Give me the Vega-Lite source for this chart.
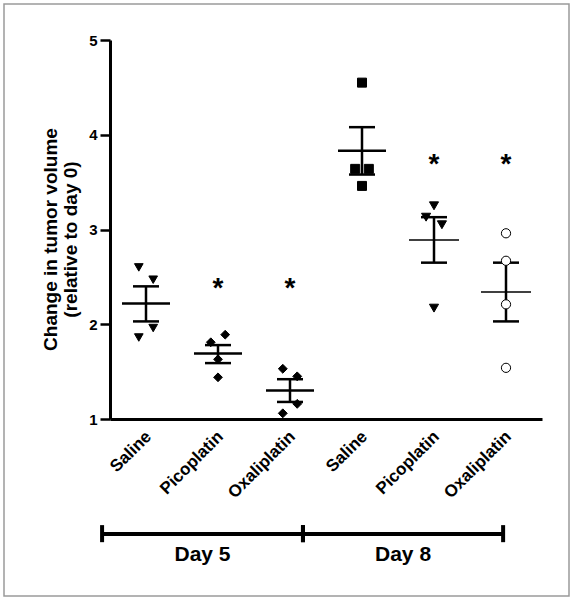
{
  "$schema": "https://vega.github.io/schema/vega-lite/v6.json",
  "width": 565,
  "height": 592,
  "autosize": "none",
  "padding": {"left": 4, "top": 4, "right": 7, "bottom": 5},
  "background": "white",
  "config": {
    "font": "Liberation Sans",
    "view": {"stroke": "#9a9a9a", "strokeWidth": 1.5},
    "axis": {"grid": false, "domainColor": "black", "tickColor": "black", "labelColor": "black", "titleColor": "black"}
  },
  "datasets": {
    "points": [
      {"cond": "Day 5|Saline", "value": 2.60, "dx": -0.2},
      {"cond": "Day 5|Saline", "value": 2.47, "dx": 0.2},
      {"cond": "Day 5|Saline", "value": 1.96, "dx": 0.2},
      {"cond": "Day 5|Saline", "value": 1.86, "dx": -0.2},
      {"cond": "Day 5|Picoplatin", "value": 1.89, "dx": 0.2},
      {"cond": "Day 5|Picoplatin", "value": 1.81, "dx": -0.2},
      {"cond": "Day 5|Picoplatin", "value": 1.63, "dx": 0},
      {"cond": "Day 5|Picoplatin", "value": 1.44, "dx": 0},
      {"cond": "Day 5|Oxaliplatin", "value": 1.53, "dx": -0.2},
      {"cond": "Day 5|Oxaliplatin", "value": 1.45, "dx": 0.2},
      {"cond": "Day 5|Oxaliplatin", "value": 1.16, "dx": 0.2},
      {"cond": "Day 5|Oxaliplatin", "value": 1.06, "dx": -0.2},
      {"cond": "Day 8|Saline", "value": 4.55, "dx": 0},
      {"cond": "Day 8|Saline", "value": 3.64, "dx": -0.19},
      {"cond": "Day 8|Saline", "value": 3.64, "dx": 0.19},
      {"cond": "Day 8|Saline", "value": 3.46, "dx": 0},
      {"cond": "Day 8|Picoplatin", "value": 3.25, "dx": 0},
      {"cond": "Day 8|Picoplatin", "value": 3.13, "dx": -0.22},
      {"cond": "Day 8|Picoplatin", "value": 3.05, "dx": 0.22},
      {"cond": "Day 8|Picoplatin", "value": 2.17, "dx": 0},
      {"cond": "Day 8|Oxaliplatin", "value": 2.96, "dx": 0},
      {"cond": "Day 8|Oxaliplatin", "value": 2.67, "dx": 0},
      {"cond": "Day 8|Oxaliplatin", "value": 2.21, "dx": 0},
      {"cond": "Day 8|Oxaliplatin", "value": 1.54, "dx": 0}
    ],
    "summary": [
      {"cond": "Day 5|Saline", "mean": 2.22, "lo": 2.03, "hi": 2.40, "star": null},
      {"cond": "Day 5|Picoplatin", "mean": 1.69, "lo": 1.59, "hi": 1.78, "star": 2.43},
      {"cond": "Day 5|Oxaliplatin", "mean": 1.30, "lo": 1.18, "hi": 1.42, "star": 2.43},
      {"cond": "Day 8|Saline", "mean": 3.83, "lo": 3.58, "hi": 4.08, "star": null},
      {"cond": "Day 8|Picoplatin", "mean": 2.89, "lo": 2.65, "hi": 3.13, "star": 3.73},
      {"cond": "Day 8|Oxaliplatin", "mean": 2.34, "lo": 2.03, "hi": 2.65, "star": 3.73}
    ],
    "days": [
      {"label": "Day 5", "start": -0.11, "mid": 1.285, "end": 2.68},
      {"label": "Day 8", "start": 2.68, "mid": 4.07, "end": 5.46}
    ]
  },
  "resolve": {"scale": {"x": "independent", "y": "independent"}},
  "layer": [
    {
      "data": {"name": "summary"},
      "encoding": {
        "x": {
          "field": "cond", "type": "nominal", "sort": null,
          "scale": {"range": [106, 538], "paddingInner": 0, "paddingOuter": 0},
          "axis": {
            "orient": "bottom", "offset": -177, "title": null, "ticks": false,
            "labelExpr": "split(datum.label, '|')[1]",
            "labelAngle": -45, "labelFontSize": 17, "labelFontWeight": "bold",
            "labelPadding": 9, "labelOffset": -3, "domainWidth": 3
          }
        }
      },
      "layer": [
        {
          "mark": {"type": "rule", "color": "black", "strokeWidth": 2.5},
          "encoding": {
            "y": {
              "field": "lo", "type": "quantitative",
              "scale": {"domain": [1, 5], "range": [415, 36], "nice": false, "zero": false},
              "axis": {
                "orient": "left", "offset": -106, "values": [1, 2, 3, 4, 5], "format": "d",
                "labelFontSize": 15, "labelFontWeight": "bold", "labelPadding": 3,
                "tickSize": 10, "tickWidth": 2.5, "domainWidth": 3,
                "title": ["Change in tumor volume", "(relative to day 0)"],
                "titleFontSize": 19, "titleFontWeight": "bold", "titleLineHeight": 20,
                "titlePadding": 8, "titleY": 235
              }
            },
            "y2": {"field": "hi"}
          }
        },
        {
          "mark": {"type": "tick", "color": "black", "size": 26, "thickness": 2.5, "opacity": 1},
          "encoding": {"y": {"field": "lo", "type": "quantitative"}}
        },
        {
          "mark": {"type": "tick", "color": "black", "size": 26, "thickness": 2.5, "opacity": 1},
          "encoding": {"y": {"field": "hi", "type": "quantitative"}}
        },
        {
          "transform": [{"filter": "datum.cond != 'Day 8|Picoplatin' && datum.cond != 'Day 8|Oxaliplatin'"}],
          "mark": {"type": "tick", "color": "black", "size": 48, "thickness": 2.5, "opacity": 1},
          "encoding": {"y": {"field": "mean", "type": "quantitative"}}
        },
        {
          "transform": [{"filter": "datum.cond == 'Day 8|Picoplatin' || datum.cond == 'Day 8|Oxaliplatin'"}],
          "mark": {"type": "tick", "color": "black", "size": 50, "thickness": 1.5, "opacity": 1},
          "encoding": {"y": {"field": "mean", "type": "quantitative"}}
        },
        {
          "transform": [{"filter": "datum.star != null"}],
          "mark": {"type": "text", "text": "*", "fontSize": 28, "fontWeight": "bold", "baseline": "alphabetic", "dy": 13, "color": "black"},
          "encoding": {"y": {"field": "star", "type": "quantitative"}}
        },
        {
          "data": {"name": "points"},
          "mark": {"type": "point", "filled": false, "opacity": 1, "stroke": "black"},
          "encoding": {
            "xOffset": {"field": "dx", "type": "quantitative", "scale": {"domain": [-1, 1]}},
            "y": {"field": "value", "type": "quantitative"},
            "shape": {
              "field": "cond", "type": "nominal", "legend": null,
              "scale": {
                "domain": ["Day 5|Saline", "Day 5|Picoplatin", "Day 5|Oxaliplatin", "Day 8|Saline", "Day 8|Picoplatin", "Day 8|Oxaliplatin"],
                "range": ["triangle-down", "diamond", "diamond", "square", "triangle-down", "circle"]
              }
            },
            "fill": {
              "field": "cond", "type": "nominal", "legend": null,
              "scale": {
                "domain": ["Day 5|Saline", "Day 5|Picoplatin", "Day 5|Oxaliplatin", "Day 8|Saline", "Day 8|Picoplatin", "Day 8|Oxaliplatin"],
                "range": ["black", "black", "black", "black", "black", "white"]
              }
            },
            "size": {
              "field": "cond", "type": "nominal", "legend": null,
              "scale": {
                "domain": ["Day 5|Saline", "Day 5|Picoplatin", "Day 5|Oxaliplatin", "Day 8|Saline", "Day 8|Picoplatin", "Day 8|Oxaliplatin"],
                "range": [75, 85, 85, 90, 75, 55]
              }
            },
            "strokeWidth": {
              "field": "cond", "type": "nominal", "legend": null,
              "scale": {
                "domain": ["Day 5|Saline", "Day 5|Picoplatin", "Day 5|Oxaliplatin", "Day 8|Saline", "Day 8|Picoplatin", "Day 8|Oxaliplatin"],
                "range": [1, 1, 1, 1, 1, 2.5]
              }
            }
          }
        }
      ]
    },
    {
      "data": {"name": "days"},
      "layer": [
        {
          "mark": {"type": "rule", "color": "black", "strokeWidth": 4},
          "encoding": {
            "x": {"field": "start", "type": "quantitative", "scale": {"domain": [0, 6], "range": [106, 538], "nice": false, "zero": false}, "axis": null},
            "x2": {"field": "end"},
            "y": {"datum": -0.214, "type": "quantitative", "scale": {"domain": [1, 5], "range": [415, 36], "nice": false, "zero": false}, "axis": null}
          }
        },
        {
          "mark": {"type": "rule", "color": "black", "strokeWidth": 4},
          "encoding": {
            "x": {"field": "start", "type": "quantitative"},
            "y": {"datum": -0.12, "type": "quantitative"},
            "y2": {"datum": -0.30}
          }
        },
        {
          "mark": {"type": "rule", "color": "black", "strokeWidth": 4},
          "encoding": {
            "x": {"field": "end", "type": "quantitative"},
            "y": {"datum": -0.12, "type": "quantitative"},
            "y2": {"datum": -0.30}
          }
        },
        {
          "mark": {"type": "text", "fontSize": 21, "fontWeight": "bold", "align": "center", "baseline": "alphabetic", "color": "black"},
          "encoding": {
            "x": {"field": "mid", "type": "quantitative"},
            "y": {"datum": -0.5, "type": "quantitative"},
            "text": {"field": "label"}
          }
        }
      ]
    }
  ]
}
